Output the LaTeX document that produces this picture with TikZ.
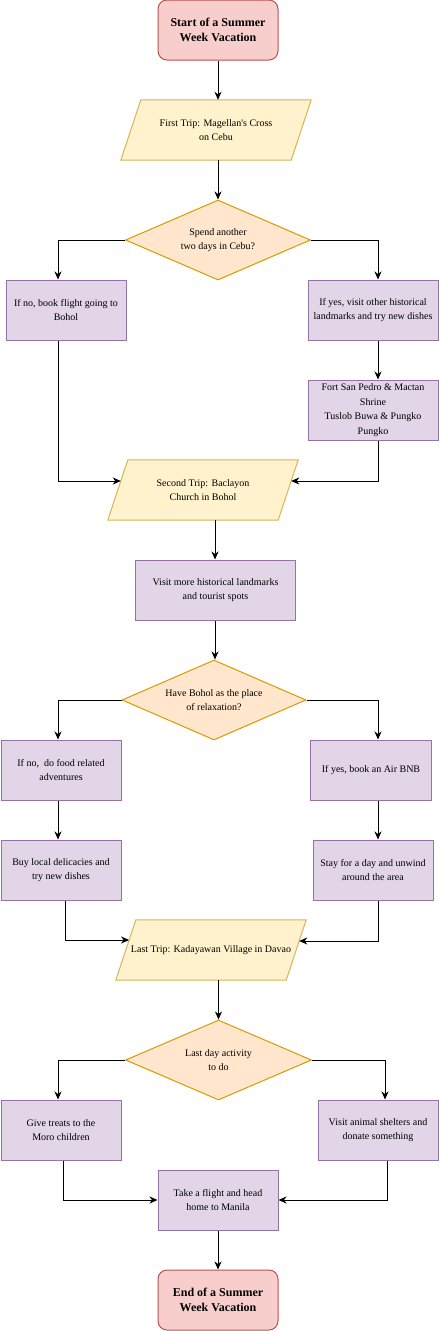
\documentclass[tikz,border=0pt]{standalone}
\usepackage{fontspec}
\setmainfont{Liberation Serif}
\newfontfamily\plainserif{Liberation Serif}
\usetikzlibrary{shapes.geometric,arrows.meta,calc,backgrounds}
\definecolor{redF}{HTML}{F8CECC}\definecolor{redD}{HTML}{B85450}
\definecolor{yelF}{HTML}{FFF2CC}\definecolor{yelD}{HTML}{D6B656}
\definecolor{orF}{HTML}{FFE6CC}\definecolor{orD}{HTML}{D79B00}
\definecolor{puF}{HTML}{E1D5E7}\definecolor{puD}{HTML}{9673A6}
\newcommand\myparashape[1]{\path[para] ($(#1.north west)+(10,0)$) -- ($(#1.north east)+(10,0)$) -- ($(#1.south east)+(-10,0)$) -- ($(#1.south west)+(-10,0)$) -- cycle;}
\begin{document}
\begin{tikzpicture}[x=1pt,y=-1pt,
  txt/.style={font=\fontsize{10}{14.7}\selectfont, align=center, inner sep=0pt},
  term/.style={txt, rectangle, rounded corners=9pt, draw=redD, fill=redF, line width=1pt, minimum width=120pt, minimum height=60pt, font=\bfseries\fontsize{12}{14.5}\selectfont},
  proc/.style={txt, rectangle, draw=puD, fill=puF, line width=1pt, minimum height=60pt},
  dec/.style={txt, diamond, draw=orD, fill=orF, line width=1pt, aspect=2.3, minimum height=80pt},
  io/.style={txt, rectangle, minimum width=170pt, minimum height=60pt},
  para/.style={draw=yelD, fill=yelF, line width=1pt},
  arr/.style={-{Stealth[length=8pt,width=7pt,inset=2.5pt]}, line width=1pt, black}
]
\useasboundingbox (0,0) rectangle (439,1331);

\node[term] (start) at (218,30) {Start of a Summer\\Week Vacation};
\node[io] (p1) at (216,130) {First Trip: Magellan{\plainserif'}s Cross\\on Cebu};
\node[dec, minimum width=185pt] (d1) at (218,240) {Spend another\\two days in Cebu?};
\node[proc, minimum width=120pt] (b1) at (66,310) {If no, book flight going to\\Bohol};
\node[proc, minimum width=130pt] (b2) at (373,310) {If yes, visit other historical\\landmarks and try new dishes};
\node[proc, minimum width=130pt] (b3) at (373,410) {Fort San Pedro \& Mactan\\Shrine\\Tuslob Buwa \& Pungko\\Pungko};
\node[io] (p2) at (203,490) {Second Trip: Baclayon\\Church in Bohol};
\node[proc, minimum width=160pt] (vis) at (215.5,590) {Visit more historical landmarks\\and tourist spots};
\node[dec, minimum width=184pt] (d2) at (214,700) {Have Bohol as the place\\of relaxation?};
\node[proc, minimum width=120pt] (b4) at (61,770) {If no,~ do food related\\adventures};
\node[proc, minimum width=121pt] (b5) at (371,770) {If yes, book an Air BNB};
\node[proc, minimum width=120pt] (b6) at (61,870) {Buy local delicacies and\\try new dishes};
\node[proc, minimum width=120pt] (b7) at (373,870) {Stay for a day and unwind\\around the area};
\node[io] (p3) at (211,950) {Last Trip: Kadayawan Village in Davao};
\node[dec, minimum width=186pt] (d3) at (218.5,1060) {Last day activity\\to do};
\node[proc, minimum width=120pt] (b8) at (61,1130) {Give treats to the\\Moro children};
\node[proc, minimum width=120pt] (b9) at (378,1130) {Visit animal shelters and\\donate something};
\node[proc, minimum width=120pt] (take) at (218,1200) {Take a flight and head\\home to Manila};
\node[term] (end) at (218,1300) {End of a Summer\\Week Vacation};

\begin{scope}[on background layer]
\fill[white] (0,0) rectangle (439,1331);
\myparashape{p1}
\myparashape{p2}
\myparashape{p3}
\end{scope}

\draw[arr] (start.south) -- (start.south |- p1.north);
\draw[arr] (start.south |- p1.south) -- (d1.north);
\draw[arr] (d1.west) -| ($(b1.north)+(-8,0)$);
\draw[arr] (d1.east) -| ($(b2.north)+(5,0)$);
\draw[arr] ($(b2.south)+(5,0)$) -- ($(b3.north)+(5,0)$);
\draw[arr] ($(b1.south)+(-8,0)$) |- ($(p2.west)+(3,-9)$);
\draw[arr] ($(b3.south)+(5,0)$) |- ($(p2.east)+(3,-9)$);
\draw[arr] ($(p2.south)+(12,0)$) -- ($(vis.north)+(-0.5,0)$);
\draw[arr] ($(vis.south)+(-0.5,0)$) -- ($(vis.south |- d2.north)+(-0.5,0)$);
\draw[arr] (d2.west) -| ($(b4.north)+(-3,0)$);
\draw[arr] (d2.east) -| ($(b5.north)+(7,0)$);
\draw[arr] ($(b4.south)+(-3,0)$) -- ($(b6.north)+(-3,0)$);
\draw[arr] ($(b5.south)+(7,0)$) -- ($(b7.north)+(5,0)$);
\draw[arr] ($(b6.south)+(4,0)$) |- ($(p3.west)+(3.3,-10)$);
\draw[arr] ($(b7.south)+(5,0)$) |- ($(p3.east)+(3,-9)$);
\draw[arr] (d3.north |- p3.south) -- (d3.north);
\draw[arr] (d3.west) -| ($(b8.north)+(-3,0)$);
\draw[arr] (d3.east) -| ($(b9.north)+(7,0)$);
\draw[arr] ($(b8.south)+(2,0)$) |- (take.west);
\draw[arr] ($(b9.south)+(9,0)$) |- (take.east);
\draw[arr] (take.south) -- (end.north);
\end{tikzpicture}
\end{document}
